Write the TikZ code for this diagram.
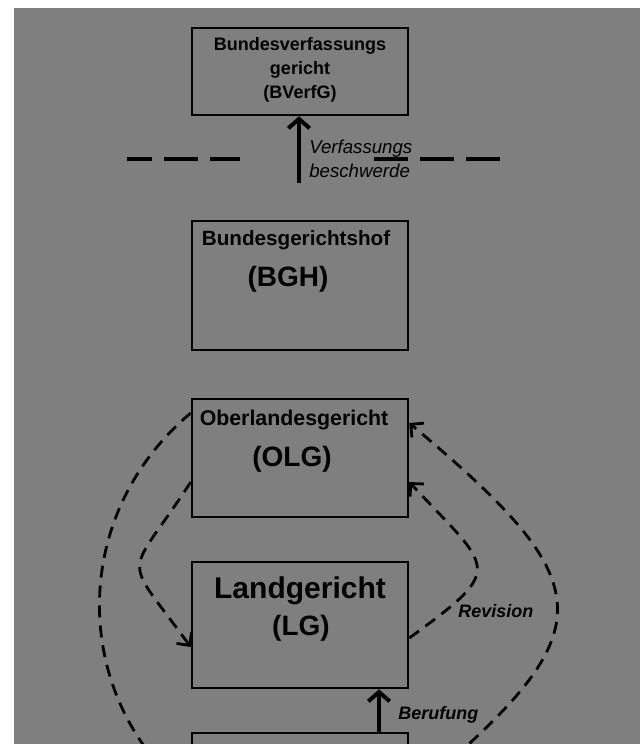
\documentclass[tikz,border=0pt]{standalone}
\usepackage{fontspec}
\setmainfont{Liberation Sans}
\usepackage{tikz}
\usetikzlibrary{arrows.meta}
\definecolor{paper}{RGB}{127,127,127}

\begin{document}
\begin{tikzpicture}[x=0.75pt, y=0.75pt, node distance=125pt]

\tikzstyle{court} = [rectangle, draw=black, line width=1.9pt, minimum width=162pt, inner sep=0pt]
\tikzstyle{courtname} = [anchor=base, inner sep=0pt]
\tikzstyle{remedy} = [anchor=base west, inner sep=0pt, font=\bfseries\itshape\fontsize{13.5}{16}\selectfont]
\tikzstyle{arrow} = [line width=3pt, -{Straight Barb[length=7pt, width=16pt]}]
\tikzstyle{back arrow} = [line width=2.1pt, dash pattern=on 9pt off 6pt, -{Straight Barb[length=7pt, width=14pt]}]
\tikzstyle{divider} = [line width=3.2pt, dash pattern=on 25.5pt off 9pt]

\useasboundingbox (0,0) rectangle (640,-744);
\fill [white] (0,0) rectangle (640,-744);
\fill [paper] (14,-8) rectangle (640,-744);

% the courts
\node (bverfg) [court, minimum height=65.25pt] at (300,-71.5) {};
\node (bgh) [court, minimum height=96.75pt, below of = bverfg, node distance=160.5pt] {};
\node (olg) [court, minimum height=88.5pt, below of = bgh, node distance=129.4pt] {};
\node (lg) [court, minimum height=94.5pt, below of = olg, node distance=125.25pt] {};
\node (ag) [court, minimum height=94.5pt, below of = lg, node distance=128.25pt] {};

\node (bverfg name) [courtname, font=\bfseries\fontsize{13.5}{16}\selectfont] at ([yshift=-18pt]bverfg.north) {Bundesverfassungs};
\node (bverfg name2) [courtname, font=\bfseries\fontsize{13.5}{16}\selectfont] at ([yshift=-36pt]bverfg.north) {gericht};
\node (bverfg short) [courtname, font=\bfseries\fontsize{13.5}{16}\selectfont] at ([yshift=-54pt]bverfg.north) {(BVerfG)};

\node (bgh name) [courtname, font=\bfseries\fontsize{15.5}{18}\selectfont] at ([xshift=-3pt, yshift=-19.5pt]bgh.north) {Bundesgerichtshof};
\node (bgh short) [courtname, font=\bfseries\fontsize{21}{24}\selectfont] at ([xshift=-9pt, yshift=-50.25pt]bgh.north) {(BGH)};

\node (olg name) [courtname, font=\bfseries\fontsize{16}{19}\selectfont] at ([xshift=-4.5pt, yshift=-21pt]olg.north) {Oberlandesgericht};
\node (olg short) [courtname, font=\bfseries\fontsize{21}{24}\selectfont] at ([xshift=-6pt, yshift=-51.75pt]olg.north) {(OLG)};

\node (lg name) [courtname, font=\bfseries\fontsize{22.5}{26}\selectfont] at ([yshift=-28.5pt]lg.north) {Landgericht};
\node (lg short) [courtname, font=\bfseries\fontsize{21}{24}\selectfont] at ([xshift=0.75pt, yshift=-56.25pt]lg.north) {(LG)};

% constitutional complaint
\draw [divider, dash phase=6.75pt] (127,-159) -- (240,-159);
\draw [divider] (374,-159) -- (510,-159);
\coordinate (vb foot) at (299,-183);
\draw [arrow] (vb foot) -- (vb foot |- bverfg.south);
\node (vb top) [anchor=base west, inner sep=0pt, font=\itshape\fontsize{14}{18}\selectfont] at (309,-153) {Verfassungs};
\node (vb bottom) [anchor=base west, inner sep=0pt, font=\itshape\fontsize{14}{18}\selectfont] at (309,-177) {beschwerde};

% appeals
\draw [arrow] ([xshift=59.25pt]ag.north) -- ([xshift=59.25pt]lg.south);
\node (berufung) [remedy] at (398,-719) {Berufung};
\node (revision) [remedy] at (458,-617) {Revision};

\draw [back arrow] ([yshift=-18pt]olg.west) to[out=237, in=126, looseness=1.86] ([yshift=-16.5pt]lg.west);
\draw [back arrow] ([yshift=-9.75pt]lg.east) to[out=36, in=313, looseness=1.99] ([yshift=-18pt]olg.east);
\draw [back arrow] ([yshift=33.75pt]olg.west) to[out=220, in=140, looseness=1.06] (ag.west);
\draw [back arrow] (ag.east) to[out=40, in=320, looseness=1.77] ([yshift=26.25pt]olg.east);

\end{tikzpicture}
\end{document}
